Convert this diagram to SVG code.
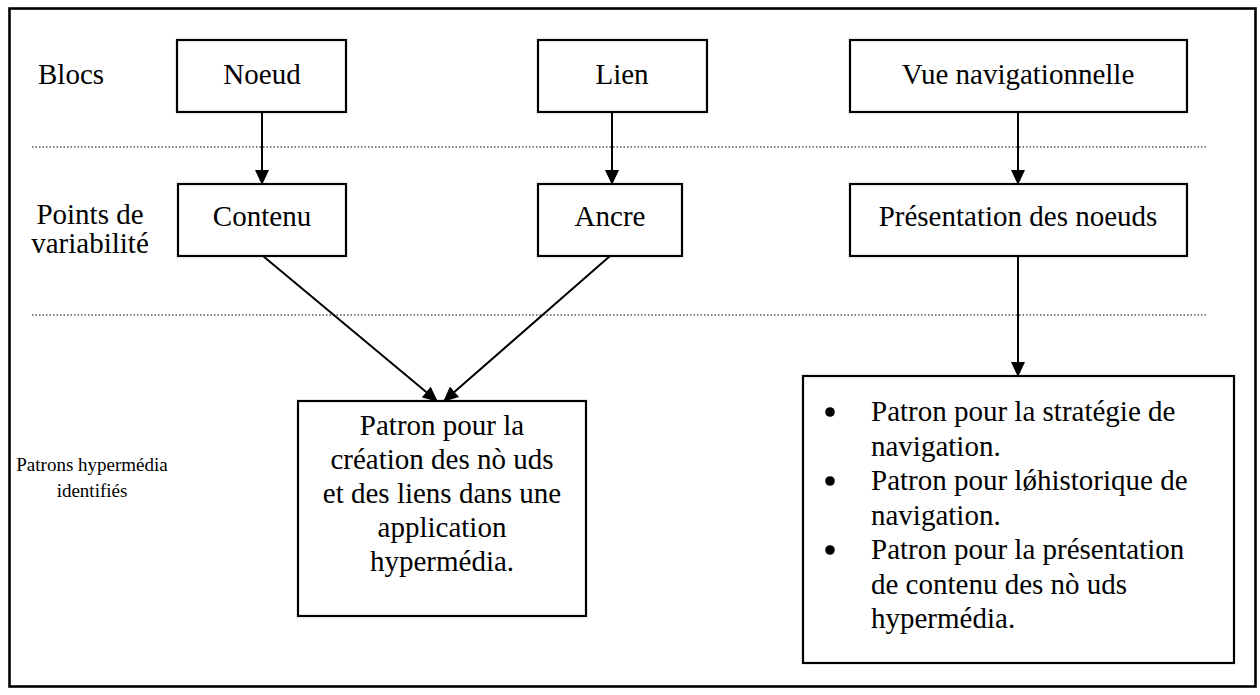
<svg xmlns="http://www.w3.org/2000/svg" width="1260" height="695" viewBox="0 0 1260 695">
<style>
text{font-family:"Liberation Serif","Times New Roman",serif;font-size:29px;fill:#000}
.c{text-anchor:middle}
.s{font-size:19px}
.box{fill:#fff;stroke:#000;stroke-width:2.2}
.dot{stroke:#000;stroke-width:1.2;stroke-dasharray:1.5 2}
.arr{stroke:#000;stroke-width:2;fill:none;marker-end:url(#ah)}
</style>
<defs>
<marker id="ah" markerWidth="15" markerHeight="14" refX="14" refY="7" orient="auto" markerUnits="userSpaceOnUse" viewBox="0 0 15 14">
<path d="M0,0 L15,7 L0,14 z" fill="#000"/>
</marker>
</defs>
<rect x="0" y="0" width="1260" height="695" fill="#fff"/>
<rect x="9.5" y="8.5" width="1246" height="678" fill="none" stroke="#000" stroke-width="2.6"/>
<g id="labels">
<text x="38" y="84">Blocs</text>
<text class="c" x="90" y="224">Points de</text>
<text class="c" x="90" y="253">variabilité</text>
<text class="c s" x="92" y="471">Patrons hypermédia</text>
<text class="c s" x="92" y="497">identifiés</text>
</g>
<g id="separators">
<line class="dot" x1="32" y1="147" x2="1208" y2="147"/>
<line class="dot" x1="32" y1="315" x2="1208" y2="315"/>
</g>
<g id="connectors">
<line class="arr" x1="262" y1="112" x2="262" y2="184"/>
<line class="arr" x1="612" y1="112" x2="612" y2="184"/>
<line class="arr" x1="1018" y1="112" x2="1018" y2="184"/>
<line class="arr" x1="263" y1="256" x2="437" y2="401"/>
<line class="arr" x1="610" y1="256" x2="444" y2="401"/>
<line class="arr" x1="1018" y1="256" x2="1018" y2="376"/>
</g>
<g id="noeud"><rect class="box" x="177" y="40" width="169" height="72"/><text class="c" x="262" y="84">Noeud</text></g>
<g id="lien"><rect class="box" x="538" y="40" width="169" height="72"/><text class="c" x="622" y="84">Lien</text></g>
<g id="vue"><rect class="box" x="850" y="40" width="337" height="72"/><text class="c" x="1018" y="84">Vue navigationnelle</text></g>
<g id="contenu"><rect class="box" x="178" y="184" width="168" height="72"/><text class="c" x="262" y="226">Contenu</text></g>
<g id="ancre"><rect class="box" x="538" y="184" width="144" height="72"/><text class="c" x="610" y="226">Ancre</text></g>
<g id="presentation"><rect class="box" x="850" y="184" width="337" height="72"/><text class="c" x="1018" y="226">Présentation des noeuds</text></g>
<g id="patron-creation"><rect class="box" x="298" y="401" width="288" height="215"/>
<text class="c" x="442" y="435">Patron pour la</text>
<text class="c" x="442" y="469">création des nò uds</text>
<text class="c" x="442" y="503">et des liens dans une</text>
<text class="c" x="442" y="537">application</text>
<text class="c" x="442" y="571">hypermédia.</text>
</g>
<g id="patrons-navigation"><rect class="box" x="803" y="376" width="431" height="287"/>
<circle cx="830" cy="412" r="4.8"/><text x="871" y="421">Patron pour la stratégie de</text>
<text x="871" y="455.5">navigation.</text>
<circle cx="830" cy="481" r="4.8"/><text x="871" y="490">Patron pour lǿhistorique de</text>
<text x="871" y="524.5">navigation.</text>
<circle cx="830" cy="550" r="4.8"/><text x="871" y="559">Patron pour la présentation</text>
<text x="871" y="593.5">de contenu des nò uds</text>
<text x="871" y="628">hypermédia.</text>
</g>
</svg>
